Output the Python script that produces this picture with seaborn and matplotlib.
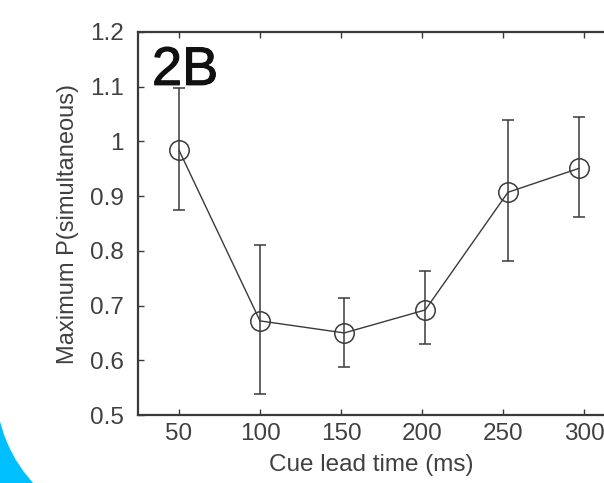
import matplotlib
matplotlib.use("Agg")
import matplotlib.pyplot as plt
import matplotlib.patheffects as pe
import seaborn as sns
import pandas as pd
import numpy as np
from matplotlib.patches import Rectangle, Circle

# ---- data ----
cue_lead_ms = [50, 100, 152, 202, 253, 297]
max_p_sim = [0.984, 0.672, 0.650, 0.692, 0.907, 0.951]
err_upper = [1.098, 0.811, 0.714, 0.763, 1.039, 1.045]
err_lower = [0.875, 0.538, 0.588, 0.630, 0.781, 0.862]
x_ticks = [50, 100, 150, 200, 250, 300]
y_ticks = [0.5, 0.6, 0.7, 0.8, 0.9, 1.0, 1.1, 1.2]
y_tick_labels = ["0.5", "0.6", "0.7", "0.8", "0.9", "1", "1.1", "1.2"]

sns.set_theme(style="white")
plt.rcParams['font.family'] = ['Liberation Sans', 'DejaVu Sans']

W, H = 604, 483
fig = plt.figure(figsize=(W / 100, H / 100), dpi=100)
ax = fig.add_axes([138 / W, 68 / H, 466 / W, 383 / H])

df = pd.DataFrame({"x": cue_lead_ms, "y": max_p_sim})
dark = "#3a3a3a"
txt = "#404040"

yerr = np.array([np.array(max_p_sim) - np.array(err_lower),
                 np.array(err_upper) - np.array(max_p_sim)])
ax.errorbar(cue_lead_ms, max_p_sim, yerr=yerr, fmt="none", ecolor=dark,
            elinewidth=1.1, capsize=4, capthick=1.1, zorder=2)
sns.lineplot(data=df, x="x", y="y", ax=ax, color=dark, linewidth=1.0,
             marker="o", markersize=14, markerfacecolor="none",
             markeredgecolor=dark, markeredgewidth=1.1, zorder=3)

ax.set_xlim(24.7, 312.3)
ax.set_ylim(0.5, 1.2)
ax.set_xticks(x_ticks)
ax.set_xticklabels([str(t) for t in x_ticks])
ax.set_yticks(y_ticks)
ax.set_yticklabels(y_tick_labels)
ax.tick_params(axis="both", direction="in", length=4, width=1.0,
               color=dark, labelcolor=txt, labelsize=17.5)
ax.tick_params(axis="x", top=True, bottom=True, pad=6)
ax.tick_params(axis="y", left=True, right=False, pad=10)

for s in ["left", "bottom", "top"]:
    ax.spines[s].set_visible(True)
    ax.spines[s].set_color(dark)
    ax.spines[s].set_linewidth(1.6)
ax.spines["right"].set_visible(False)

ax.set_xlabel("Cue lead time (ms)", fontsize=17.5, color=txt, labelpad=6)
ax.set_ylabel("Maximum P(simultaneous)", fontsize=17, color=txt, labelpad=8)

ax.text(0.030, 0.862, "2B", transform=ax.transAxes, fontsize=39,
        color="#111111", ha="left", va="baseline",
        path_effects=[pe.withStroke(linewidth=0.8, foreground="#111111")])

# decorative blue arc in the bottom-left corner
fig.patches.append(Rectangle((0, 0), 0.8, 0.9, transform=fig.dpi_scale_trans,
                             facecolor="#00bfff", edgecolor="none", zorder=-3))
fig.patches.append(Circle((1.36, 0.95), 1.40, transform=fig.dpi_scale_trans,
                          facecolor="white", edgecolor="none", zorder=-2))

fig.savefig("out.png", dpi=100)
